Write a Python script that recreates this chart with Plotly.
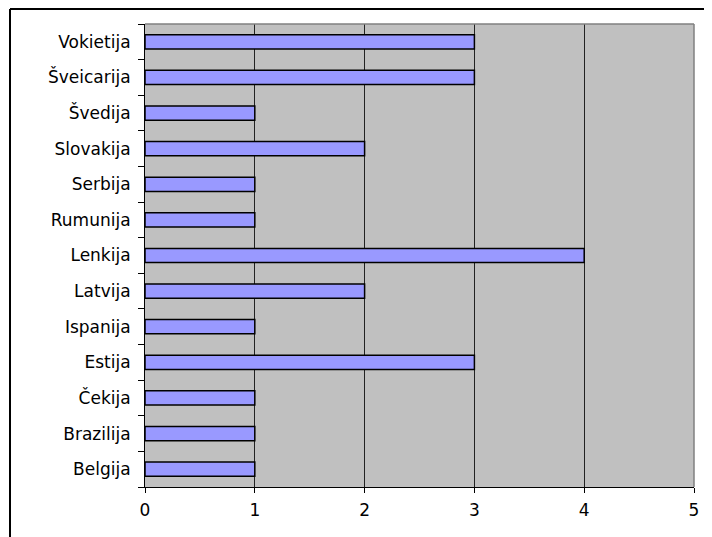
import plotly.graph_objects as go

countries = ["Belgija", "Brazilija", "Čekija", "Estija", "Ispanija", "Latvija",
             "Lenkija", "Rumunija", "Serbija", "Slovakija", "Švedija",
             "Šveicarija", "Vokietija"]
values = [1, 1, 1, 3, 1, 2, 4, 1, 1, 2, 1, 3, 3]
x_ticks = [0, 1, 2, 3, 4, 5]

# page body has an 8px margin; compensate so the plot lands where the reference has it
OFF = 8
W, H = 712 - OFF, 537 - OFF
L, R, T, B = 145 - OFF, 694 - OFF, 24 - OFF, 487 - OFF

fig = go.Figure()
fig.add_trace(go.Bar(
    x=values, y=countries, orientation="h",
    marker=dict(color="#9999FF", line=dict(color="black", width=1.5)),
    showlegend=False, hoverinfo="x+y",
))

pw, ph = R - L, B - T
fx = lambda px: (px - OFF - L) / pw
fy = lambda py: (B - (py - OFF)) / ph

fig.update_layout(
    width=W, height=H,
    margin=dict(l=L, r=W - R, t=T, b=H - B, pad=0),
    paper_bgcolor="white", plot_bgcolor="#C0C0C0",
    bargap=0.6,
    font=dict(family="DejaVu Sans, Arial, sans-serif", size=17, color="black"),
    xaxis=dict(range=[0, 5], tickvals=x_ticks, showgrid=True, gridcolor="#222222",
               gridwidth=1, zeroline=False, showline=True, linecolor="black",
               linewidth=1, ticks="outside", ticklen=5, tickcolor="black",
               ticklabelstandoff=3, fixedrange=True),
    yaxis=dict(type="category", categoryorder="array", categoryarray=countries,
               tickson="boundaries", showgrid=False, showline=True,
               linecolor="black", linewidth=1, ticks="outside", ticklen=6,
               tickcolor="black", ticklabelstandoff=10, fixedrange=True),
    shapes=[
        dict(type="line", xref="paper", yref="paper", x0=0, x1=1, y0=1, y1=1,
             line=dict(color="#808080", width=1.5), layer="above"),
        dict(type="line", xref="paper", yref="paper", x0=1, x1=1, y0=0, y1=1,
             line=dict(color="#808080", width=1.5), layer="above"),
        dict(type="line", xref="paper", yref="paper", x0=fx(10), x1=fx(760),
             y0=fy(9), y1=fy(9), line=dict(color="black", width=2)),
        dict(type="line", xref="paper", yref="paper", x0=fx(10), x1=fx(10),
             y0=fy(9), y1=fy(600), line=dict(color="black", width=2)),
    ],
)

fig.write_html("out.html")
